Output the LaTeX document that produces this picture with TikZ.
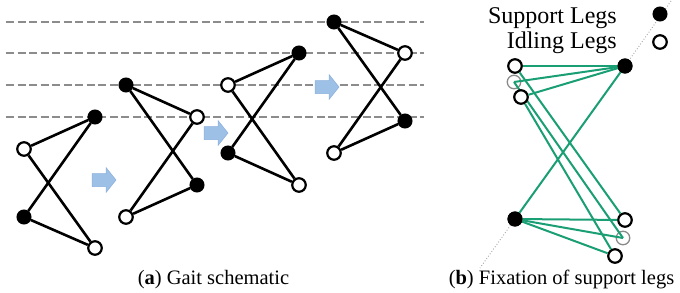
\documentclass[tikz,border=0pt]{standalone}
\usepackage{fontspec}
\setmainfont{Liberation Serif}
\definecolor{legreen}{HTML}{1A9E74}
\definecolor{arrowblue}{HTML}{9DC0E6}
\definecolor{arrowedge}{HTML}{8AAFDD}
\definecolor{dashgray}{HTML}{8C8C8C}
\definecolor{ghostgray}{HTML}{8A8A8A}
\tikzset{
  supleg/.style={circle, fill=black, draw=black, line width=1pt, minimum size=14pt, inner sep=0pt},
  idleg/.style={circle, fill=white, draw=black, line width=2.2pt, minimum size=13.5pt, inner sep=0pt},
  ghostleg/.style={circle, draw=ghostgray, line width=1.3pt, minimum size=13.5pt, inner sep=0pt},
  legline/.style={draw=black, line width=2.6pt},
  greenline/.style={draw=legreen, line width=2pt},
  levelline/.style={draw=dashgray, line width=1.5pt, dash pattern=on 8pt off 3.5pt},
  axisline/.style={draw=gray!70, line width=0.9pt, dotted},
  capt/.style={anchor=base, font=\fontsize{20.5}{23}\selectfont, inner sep=0pt},
  legendtext/.style={anchor=base east, font=\fontsize{24}{28}\selectfont, inner sep=0pt},
  bluearrow/.pic={\path[fill=arrowblue, draw=arrowedge, line width=0.5pt]
     (-12,-6.5) -- (2,-6.5) -- (2,-12.5) -- (12,0) -- (2,12.5) -- (2,6.5) -- (-12,6.5) -- cycle;}
}
\begin{document}
\begin{tikzpicture}[x=1pt,y=-1pt]
\useasboundingbox (0,0) rectangle (680,292);

% level lines
\foreach \yy in {22,53,85,117} {
  \coordinate (ls\yy) at (6,\yy);
  \coordinate (le\yy) at (424,\yy);
  \draw[levelline] (ls\yy) -- (le\yy);
}

% figure 1
\node[supleg] (A1) at (95,117) {};
\node[idleg]  (B1) at (24,149) {};
\node[supleg] (C1) at (24,217) {};
\node[idleg]  (D1) at (95,248) {};
% figure 2
\node[supleg] (A2) at (126,85) {};
\node[idleg]  (B2) at (197,117) {};
\node[supleg] (C2) at (197,185) {};
\node[idleg]  (D2) at (126,217) {};
% figure 3
\node[supleg] (A3) at (299,53) {};
\node[idleg]  (B3) at (228,85) {};
\node[supleg] (C3) at (228,153) {};
\node[idleg]  (D3) at (299,185) {};
% figure 4
\node[supleg] (A4) at (334,22) {};
\node[idleg]  (B4) at (405,53) {};
\node[supleg] (C4) at (405,121) {};
\node[idleg]  (D4) at (334,153) {};

\foreach \i in {1,2,3,4} {
  \draw[legline] (A\i) -- (B\i);
  \draw[legline] (A\i) -- (C\i);
  \draw[legline] (B\i) -- (D\i);
  \draw[legline] (C\i) -- (D\i);
}

% step arrows
\pic at (104,180) {bluearrow};
\pic at (216,133) {bluearrow};
\pic at (327,87) {bluearrow};

% panel b
\coordinate (dtop) at (671,1);
\coordinate (dbot) at (480,268);
\node[supleg] (SA) at (625,66) {};
\node[supleg] (SC) at (515,219) {};
\node[ghostleg] (G1) at (514,82) {};
\node[ghostleg] (G2) at (623,238) {};
\draw[axisline] (dtop) -- (SA);
\draw[axisline] (SC) -- (dbot);

\draw[greenline] (SA) -- (SC);
\draw[greenline] (SA) -- (G1.center);
\draw[greenline] (SC) -- (G2.center);
\draw[greenline] (G1.center) -- (G2.center);

\node[idleg] (W1) at (515,66) {};
\node[idleg] (W2) at (521,97) {};
\node[idleg] (W3) at (625,220) {};
\node[idleg] (W4) at (615,256) {};
\draw[greenline] (SA) -- (W1);
\draw[greenline] (SA) -- (W2);
\draw[greenline] (SC) -- (W3);
\draw[greenline] (SC) -- (W4);
\draw[greenline] (W1) -- (W3);
\draw[greenline] (W2) -- (W4);
\node[supleg] at (SA) {};
\node[supleg] at (SC) {};

% legend
\node[supleg] (LS) at (660,14) {};
\node[idleg]  (LI) at (660,42) {};
\node[legendtext] (LST) at (617,23) {Support Legs};
\node[legendtext] (LIT) at (617,48) {Idling Legs};

% captions
\node[capt] (capa) at (213.5,284) {(\textbf{a}) Gait schematic};
\node[capt] (capb) at (561.5,284) {(\textbf{b}) Fixation of support legs};
\end{tikzpicture}
\end{document}
